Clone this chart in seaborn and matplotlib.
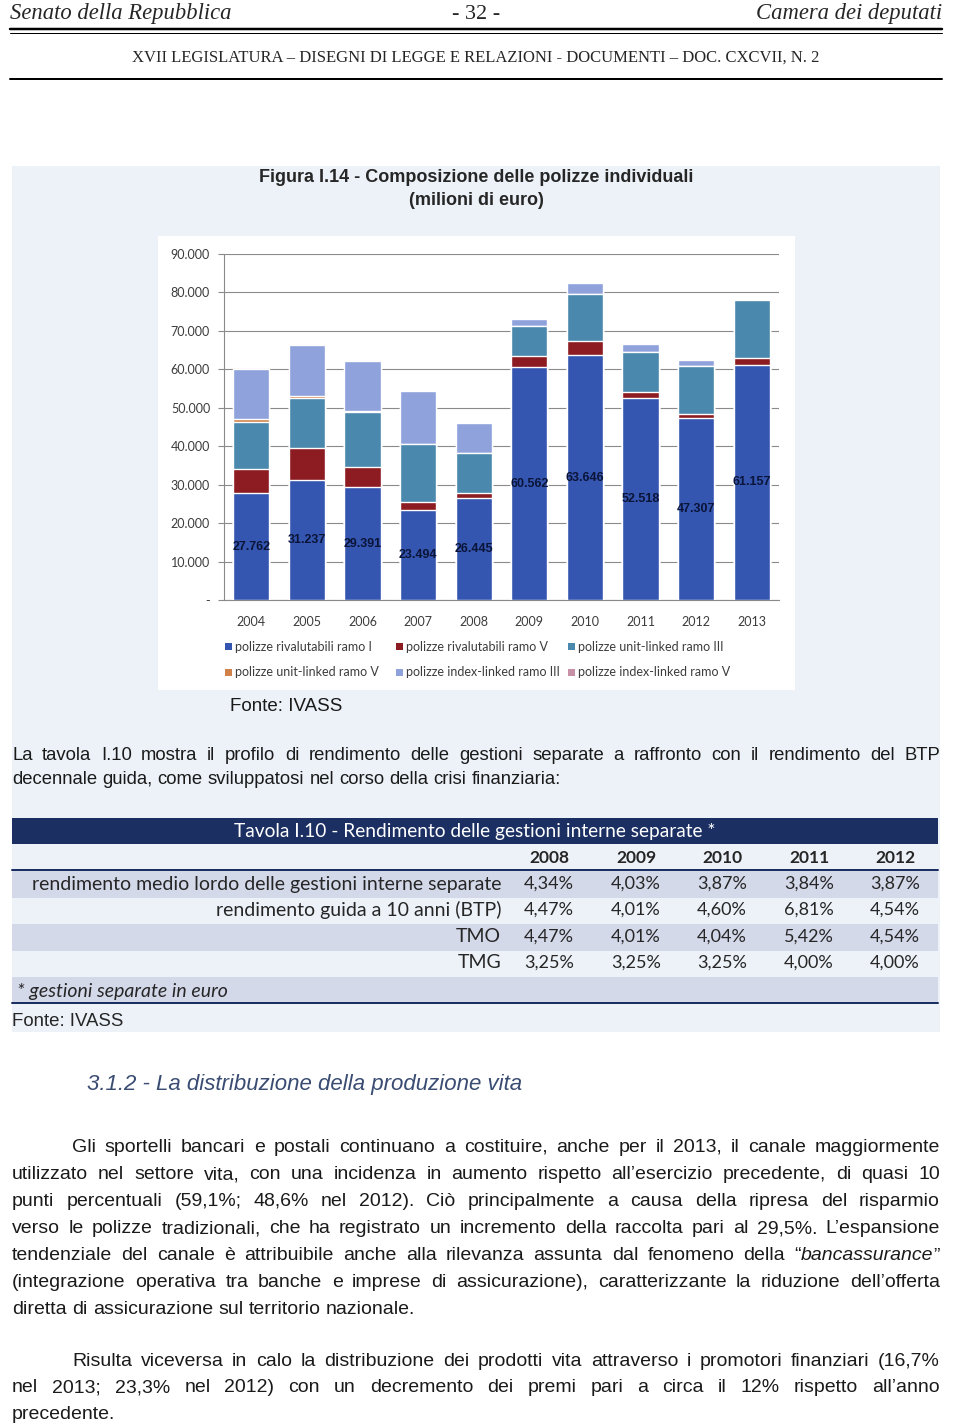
import matplotlib
matplotlib.use("Agg")
import matplotlib.pyplot as plt
from matplotlib.patches import Rectangle
from matplotlib.lines import Line2D
import seaborn as sns

# Dati: composizione delle polizze individuali (milioni di euro)
anni = ["2004", "2005", "2006", "2007", "2008", "2009", "2010", "2011", "2012", "2013"]
rival_ramo_I = [27762, 31237, 29391, 23494, 26445, 60562, 63646, 52518, 47307, 61157]
rival_ramo_V = [6400, 8300, 5300, 2100, 1300, 2900, 3600, 1500, 1100, 1700]
unit_ramo_III = [12200, 13000, 14300, 15000, 10400, 7900, 12300, 10400, 12400, 15300]
unit_ramo_V = [600, 500, 100, 0, 0, 0, 0, 0, 0, 0]
index_ramo_III = [13100, 13400, 13200, 13900, 8000, 1700, 3000, 2300, 1500, 0]
index_ramo_V = [0, 0, 0, 0, 0, 0, 0, 0, 0, 0]

serie_nomi = [
    "polizze rivalutabili ramo I",
    "polizze rivalutabili ramo V",
    "polizze unit-linked ramo III",
    "polizze unit-linked ramo V",
    "polizze index-linked ramo III",
    "polizze index-linked ramo V",
]
serie_colori = ["#3556b0", "#8c1c22", "#4a88ad", "#d0824a", "#8fa2db", "#c690a6"]

# Dati della tavola I.10
tab_anni = ["2008", "2009", "2010", "2011", "2012"]
tab_voci = [
    "rendimento medio lordo delle gestioni interne separate",
    "rendimento guida a 10 anni (BTP)",
    "TMO",
    "TMG",
]
tab_valori = [
    ["4,34%", "4,03%", "3,87%", "3,84%", "3,87%"],
    ["4,47%", "4,01%", "4,60%", "6,81%", "4,54%"],
    ["4,47%", "4,01%", "4,04%", "5,42%", "4,54%"],
    ["3,25%", "3,25%", "3,25%", "4,00%", "4,00%"],
]

testo_intro = [
    "La tavola I.10 mostra il profilo di rendimento delle gestioni separate a raffronto con il rendimento del BTP",
    "decennale guida, come sviluppatosi nel corso della crisi finanziaria:",
]
testo_par1 = [
    "Gli sportelli bancari e postali continuano a costituire, anche per il 2013, il canale maggiormente",
    "utilizzato nel settore vita, con una incidenza in aumento rispetto all\u2019esercizio precedente, di quasi 10",
    "punti percentuali (59,1%; 48,6% nel 2012). Ci\u00f2 principalmente a causa della ripresa del risparmio",
    "verso le polizze tradizionali, che ha registrato un incremento della raccolta pari al 29,5%. L\u2019espansione",
    "tendenziale del canale \u00e8 attribuibile anche alla rilevanza assunta dal fenomeno della \u201c*bancassurance*\u201d",
    "(integrazione operativa tra banche e imprese di assicurazione), caratterizzante la riduzione dell\u2019offerta",
    "diretta di assicurazione sul territorio nazionale.",
]
testo_par2 = [
    "Risulta viceversa in calo la distribuzione dei prodotti vita attraverso i promotori finanziari (16,7%",
    "nel 2013; 23,3% nel 2012) con un decremento dei premi pari a circa il 12% rispetto all\u2019anno",
    "precedente.",
]

sns.set_style("white")
plt.rcParams["font.family"] = ["Liberation Sans", "DejaVu Sans"]

W, H = 960, 1427
fig = plt.figure(figsize=(W / 100, H / 100), dpi=100)
renderer = fig.canvas.get_renderer()


def fx(x):
    return x / W


def fy(y):
    return 1 - y / H


def box(x0, y0, x1, y1, color, z=0):
    fig.add_artist(Rectangle((fx(x0), fy(y1)), (x1 - x0) / W, (y1 - y0) / H,
                             transform=fig.transFigure, facecolor=color,
                             edgecolor="none", zorder=z))


def hline(x0, x1, y, px, color="black"):
    fig.add_artist(Line2D([fx(x0), fx(x1)], [fy(y), fy(y)], lw=px * 0.72,
                          color=color, transform=fig.transFigure, zorder=3))


def text(x, y, s, **kw):
    return fig.text(fx(x), fy(y), s, **kw)


def larghezza(s, size, family, style="normal"):
    t = fig.text(0, 0, s, fontsize=size, family=family, style=style)
    w = t.get_window_extent(renderer).width
    t.remove()
    return w


def riga_giustificata(line, x0, x1, ybase, size, family, color="#1a1a1a", ultima=False):
    # ogni parola puo' contenere parti in corsivo racchiuse tra *
    parole = []
    for p in line.split(" "):
        parti = p.split("*")
        segs = [(s, "italic" if i % 2 else "normal") for i, s in enumerate(parti) if s]
        w = sum(larghezza(s, size, family, st) for s, st in segs)
        parole.append((segs, w))
    spazio = larghezza("a b", size, family) - larghezza("ab", size, family)
    tot = sum(w for _, w in parole)
    if ultima or len(parole) < 2:
        gap = spazio
    else:
        gap = (x1 - x0 - tot) / (len(parole) - 1)
    x = x0
    for segs, w in parole:
        for s, st in segs:
            text(x, ybase, s, fontsize=size, family=family, style=st,
                 color=color, ha="left", va="baseline")
            x += larghezza(s, size, family, st)
        x += gap


# --- intestazione della pagina ---
serif = ["Liberation Serif", "DejaVu Serif"]
text(10, 19, "Senato della Repubblica", fontsize=16.3, family=serif, style="italic",
     ha="left", va="baseline")
text(476, 19, "- 32 -", fontsize=16, family=serif, ha="center", va="baseline")
text(942, 19, "Camera dei deputati", fontsize=16.3, family=serif, style="italic",
     ha="right", va="baseline")
hline(10, 942, 28.5, 2.5)
hline(10, 942, 32.5, 1)
text(476, 62, "XVII LEGISLATURA \u2013 DISEGNI DI LEGGE E RELAZIONI - DOCUMENTI \u2013 DOC. CXCVII, N. 2",
     fontsize=12, family=serif, ha="center", va="baseline")
hline(10, 942, 79, 2)

# --- riquadro della figura ---
box(12, 166, 940, 1032, "#edf2f8")
box(158, 236, 795, 690, "white", z=1)

sans = ["Liberation Sans", "DejaVu Sans"]
lato = ["Lato", "DejaVu Sans"]
text(476, 182, "Figura I.14 - Composizione delle polizze individuali", fontsize=13,
     weight="bold", family=sans, ha="center", va="baseline")
text(476, 205, "(milioni di euro)", fontsize=13, weight="bold", family=sans,
     ha="center", va="baseline")

ax = fig.add_axes([fx(224), fy(600), (779 - 224) / W, (600 - 254) / H], zorder=2)
ax.set_facecolor("white")

# barre impilate: si disegnano i cumulati dal piu' alto al piu' basso
serie = [rival_ramo_I, rival_ramo_V, unit_ramo_III, unit_ramo_V, index_ramo_III, index_ramo_V]
cumulati = []
acc = [0] * len(anni)
for s in serie:
    acc = [a + v for a, v in zip(acc, s)]
    cumulati.append(acc)
for cum, col in zip(reversed(cumulati), reversed(serie_colori)):
    sns.barplot(x=anni, y=cum, color=col, saturation=1, width=0.65, ax=ax, zorder=3)

ax.bar_label(ax.containers[-1],
             labels=[f"{v:,}".replace(",", ".") for v in rival_ramo_I],
             label_type="center", fontsize=9, fontweight="bold", color="#0a1438",
             family=sans)

ax.set_ylim(0, 90000)
ax.set_xlim(-0.49, len(anni) - 0.51)
yt = list(range(0, 90001, 10000))
ax.set_yticks(yt)
ax.set_yticklabels(["-" if v == 0 else f"{v:,}".replace(",", ".") for v in yt])
ax.yaxis.grid(True, color="#8a8a8a", lw=0.8)
ax.set_axisbelow(True)
ax.set_xlabel("")
ax.set_ylabel("")
for side in ["top", "right"]:
    ax.spines[side].set_visible(False)
for side in ["left", "bottom"]:
    ax.spines[side].set_color("#8a8a8a")
    ax.spines[side].set_linewidth(0.8)
ax.tick_params(axis="y", left=True, length=4, width=0.8, color="#8a8a8a", pad=6,
               labelsize=9, labelcolor="#3c3c3c")
ax.tick_params(axis="x", bottom=False, pad=8, labelsize=9, labelcolor="#3c3c3c")
for lab in ax.get_xticklabels() + ax.get_yticklabels():
    lab.set_family(lato)

# legenda su due righe
leg_x = [225, 396, 568]
leg_y = [647, 672]
for i, (nome, col) in enumerate(zip(serie_nomi, serie_colori)):
    x = leg_x[i % 3]
    y = leg_y[i // 3]
    box(x, y - 3.5, x + 7, y + 3.5, col, z=2)
    text(x + 10, y, nome, fontsize=9, color="#3c3c3c", family=lato,
         ha="left", va="center", zorder=3)

text(230, 711, "Fonte: IVASS", fontsize=13.5, family=sans, ha="left", va="baseline",
     color="#1a1a1a")

# --- testo introduttivo ---
for i, riga in enumerate(testo_intro):
    riga_giustificata(riga, 12, 940, 760 + 24 * i, 13.3, sans,
                      ultima=(i == len(testo_intro) - 1))

# --- tavola I.10 ---
navy = "#1b2f62"
lav = "#d4d9ea"
box(12, 818, 938, 844, navy, z=1)
text(475, 831, "Tavola I.10 - Rendimento delle gestioni interne separate *", fontsize=13.8,
     color="white", family=lato, ha="center", va="center", zorder=3)
col_x = [549, 636, 722, 809, 895]
for x, a in zip(col_x, tab_anni):
    text(x, 858, a, fontsize=12.5, weight="bold", family=lato, ha="center",
         va="center", zorder=3)
hline(12, 938, 870, 2, navy)
righe_y = [884, 910, 937, 963]
for r, (voce, vals, y) in enumerate(zip(tab_voci, tab_valori, righe_y)):
    if r % 2 == 0:
        box(12, y - 13.5, 938, y + 13.5, lav, z=1)
    text(501, y, voce, fontsize=14, family=lato, ha="right", va="center", zorder=3)
    for x, v in zip(col_x, vals):
        text(x, y, v, fontsize=13, family=lato, ha="center", va="center", zorder=3)
box(12, 977, 938, 1003, lav, z=1)
text(17, 991, "* gestioni separate in euro", fontsize=14, style="italic", family=lato,
     ha="left", va="center", zorder=3)
hline(12, 938, 1003, 2, navy)
text(12, 1026, "Fonte: IVASS", fontsize=13.4, family=sans, ha="left", va="baseline")

# --- paragrafo 3.1.2 ---
text(87, 1090, "3.1.2 - La distribuzione della produzione vita", fontsize=16,
     style="italic", color="#3a4c72", family=sans, ha="left", va="baseline")

for i, riga in enumerate(testo_par1):
    x0 = 72 if i == 0 else 12
    riga_giustificata(riga, x0, 940, 1152 + 27 * i, 14, sans,
                      ultima=(i == len(testo_par1) - 1))
for i, riga in enumerate(testo_par2):
    x0 = 72 if i == 0 else 12
    riga_giustificata(riga, x0, 940, 1366 + 26.5 * i, 14, sans,
                      ultima=(i == len(testo_par2) - 1))

fig.savefig("out.png", dpi=100, facecolor="white")
